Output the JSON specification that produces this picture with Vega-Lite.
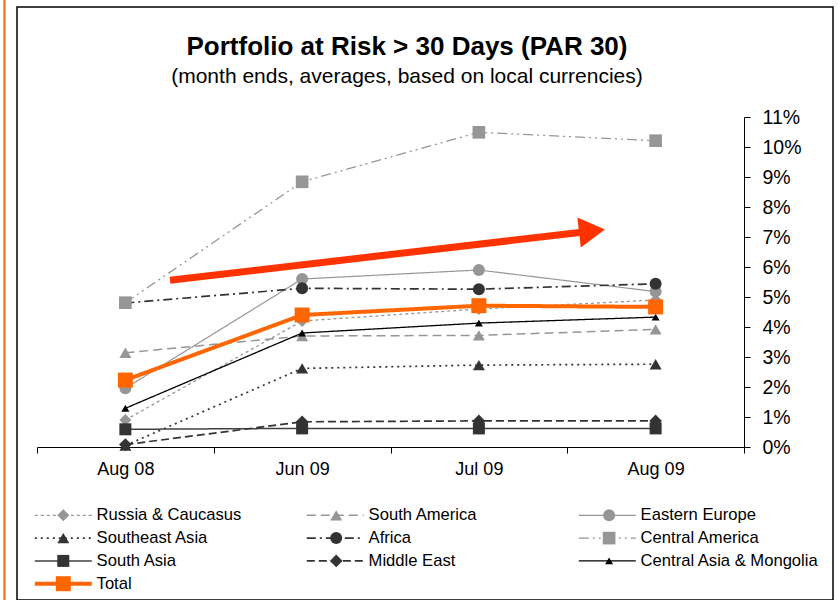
{
  "$schema": "https://vega.github.io/schema/vega-lite/v6.json",
  "width": 816,
  "height": 593,
  "autosize": {"type": "none"},
  "padding": {"left": 17, "top": 7, "right": 5, "bottom": 0},
  "config": {
    "view": {"stroke": "black", "strokeWidth": 1.5},
    "font": "Liberation Sans"
  },
  "title": {
    "text": "Portfolio at Risk > 30 Days (PAR 30)",
    "subtitle": "(month ends, averages, based on local currencies)",
    "anchor": "middle",
    "frame": "group",
    "offset": -121,
    "dx": -18,
    "fontSize": 26,
    "subtitleFontSize": 21,
    "font": "Liberation Sans",
    "subtitleFont": "Liberation Sans",
    "fontWeight": "bold",
    "color": "black",
    "subtitleColor": "black",
    "subtitlePadding": 6
  },
  "resolve": {"scale": {"x": "independent"}},
  "layer": [
    {
      "data": {
        "values": [
          {"series": "Russia & Caucasus", "month": "Aug 08", "value": 0.9},
          {"series": "Russia & Caucasus", "month": "Jun 09", "value": 4.2},
          {"series": "Russia & Caucasus", "month": "Jul 09", "value": 4.6},
          {"series": "Russia & Caucasus", "month": "Aug 09", "value": 4.9},
          {"series": "South America", "month": "Aug 08", "value": 3.14},
          {"series": "South America", "month": "Jun 09", "value": 3.7},
          {"series": "South America", "month": "Jul 09", "value": 3.72},
          {"series": "South America", "month": "Aug 09", "value": 3.92},
          {"series": "Eastern Europe", "month": "Aug 08", "value": 1.96},
          {"series": "Eastern Europe", "month": "Jun 09", "value": 5.6},
          {"series": "Eastern Europe", "month": "Jul 09", "value": 5.9},
          {"series": "Eastern Europe", "month": "Aug 09", "value": 5.18},
          {"series": "Southeast Asia", "month": "Aug 08", "value": 0.05},
          {"series": "Southeast Asia", "month": "Jun 09", "value": 2.62},
          {"series": "Southeast Asia", "month": "Jul 09", "value": 2.73},
          {"series": "Southeast Asia", "month": "Aug 09", "value": 2.76},
          {"series": "Africa", "month": "Aug 08", "value": 4.8},
          {"series": "Africa", "month": "Jun 09", "value": 5.29},
          {"series": "Africa", "month": "Jul 09", "value": 5.26},
          {"series": "Africa", "month": "Aug 09", "value": 5.44},
          {"series": "Central America", "month": "Aug 08", "value": 4.81},
          {"series": "Central America", "month": "Jun 09", "value": 8.84},
          {"series": "Central America", "month": "Jul 09", "value": 10.49},
          {"series": "Central America", "month": "Aug 09", "value": 10.21},
          {"series": "South Asia", "month": "Aug 08", "value": 0.59},
          {"series": "South Asia", "month": "Jun 09", "value": 0.62},
          {"series": "South Asia", "month": "Jul 09", "value": 0.62},
          {"series": "South Asia", "month": "Aug 09", "value": 0.62},
          {"series": "Middle East", "month": "Aug 08", "value": 0.08},
          {"series": "Middle East", "month": "Jun 09", "value": 0.84},
          {"series": "Middle East", "month": "Jul 09", "value": 0.87},
          {"series": "Middle East", "month": "Aug 09", "value": 0.87},
          {"series": "Central Asia & Mongolia", "month": "Aug 08", "value": 1.29},
          {"series": "Central Asia & Mongolia", "month": "Jun 09", "value": 3.8},
          {"series": "Central Asia & Mongolia", "month": "Jul 09", "value": 4.13},
          {"series": "Central Asia & Mongolia", "month": "Aug 09", "value": 4.33},
          {"series": "Total", "month": "Aug 08", "value": 2.23},
          {"series": "Total", "month": "Jun 09", "value": 4.4},
          {"series": "Total", "month": "Jul 09", "value": 4.71},
          {"series": "Total", "month": "Aug 09", "value": 4.67}
        ]
      },
      "encoding": {
        "x": {
          "field": "month",
          "type": "nominal",
          "sort": ["Aug 08", "Jun 09", "Jul 09", "Aug 09"],
          "scale": {"type": "band", "range": [20, 727], "paddingInner": 0, "paddingOuter": 0},
          "axis": {
            "title": null,
            "offset": -153,
            "labelFontSize": 18,
            "labelColor": "black",
            "labelFont": "Liberation Sans",
            "labelPadding": 7,
            "labelAngle": 0,
            "tickBand": "extent",
            "tickSize": 6,
            "tickColor": "black",
            "domainColor": "black",
            "grid": false
          }
        },
        "y": {
          "field": "value",
          "type": "quantitative",
          "scale": {"domain": [0, 11], "range": [440, 110], "nice": false, "zero": false},
          "axis": {
            "orient": "right",
            "offset": -89,
            "title": null,
            "values": [0, 1, 2, 3, 4, 5, 6, 7, 8, 9, 10, 11],
            "labelExpr": "datum.value + '%'",
            "grid": false,
            "tickSize": 6,
            "tickColor": "black",
            "domainColor": "black",
            "labelFontSize": 19.5,
            "labelFont": "Liberation Sans",
            "labelColor": "black",
            "labelPadding": 12
          }
        }
      },
      "layer": [
        {
          "mark": {"type": "line", "strokeCap": "butt"},
          "encoding": {
            "stroke": {
              "field": "series",
              "type": "nominal",
              "scale": {
                "domain": ["Russia & Caucasus", "South America", "Eastern Europe", "Southeast Asia", "Africa", "Central America", "South Asia", "Middle East", "Central Asia & Mongolia", "Total"],
                "range": ["#969696", "#969696", "#969696", "#333333", "#333333", "#969696", "#404040", "#333333", "#000000", "#FF6600"]
              },
              "legend": {
                "orient": "none", "legendX": 18, "legendY": 500, "columns": 3, "direction": "horizontal", "title": null,
                "symbolType": "M-5.7,0H5.7", "symbolSize": 100, "symbolOffset": 20, "labelOffset": 25,
                "labelFontSize": 16.6, "labelFont": "Liberation Sans", "labelColor": "black",
                "rowPadding": 5.8, "columnPadding": 28, "gridAlign": "all", "padding": 0, "labelLimit": 0
              }
            },
            "strokeDash": {
              "field": "series",
              "type": "nominal",
              "scale": {
                "domain": ["Russia & Caucasus", "South America", "Eastern Europe", "Southeast Asia", "Africa", "Central America", "South Asia", "Middle East", "Central Asia & Mongolia", "Total"],
                "range": [[3, 3], [9, 5], [1, 0], [2, 4], [9, 4, 2, 4], [10, 4, 2, 4, 2, 4], [1, 0], [8, 4], [1, 0], [1, 0]]
              },
              "legend": {
                "orient": "none", "legendX": 18, "legendY": 500, "columns": 3, "direction": "horizontal", "title": null,
                "symbolType": "M-5.7,0H5.7", "symbolSize": 100, "symbolOffset": 20, "labelOffset": 25,
                "labelFontSize": 16.6, "labelFont": "Liberation Sans", "labelColor": "black",
                "rowPadding": 5.8, "columnPadding": 28, "gridAlign": "all", "padding": 0, "labelLimit": 0
              }
            },
            "strokeWidth": {
              "field": "series",
              "type": "ordinal",
              "scale": {
                "type": "ordinal",
                "domain": ["Russia & Caucasus", "South America", "Eastern Europe", "Southeast Asia", "Africa", "Central America", "South Asia", "Middle East", "Central Asia & Mongolia", "Total"],
                "range": [1.3, 1.5, 1.2, 1.7, 1.7, 1.3, 1.5, 1.7, 1.3, 4]
              },
              "legend": {
                "orient": "none", "legendX": 18, "legendY": 500, "columns": 3, "direction": "horizontal", "title": null,
                "symbolType": "M-5.7,0H5.7", "symbolSize": 100, "symbolOffset": 20, "labelOffset": 25,
                "labelFontSize": 16.6, "labelFont": "Liberation Sans", "labelColor": "black",
                "rowPadding": 5.8, "columnPadding": 28, "gridAlign": "all", "padding": 0, "labelLimit": 0
              }
            }
          }
        },
        {
          "mark": {"type": "point", "filled": true, "opacity": 1, "strokeWidth": 0},
          "encoding": {
            "fill": {
              "field": "series",
              "type": "nominal",
              "sort": null,
              "scale": {"range": ["#969696", "#969696", "#969696", "#333333", "#333333", "#969696", "#333333", "#333333", "#000000", "#FF6600"]},
              "legend": {
                "orient": "none", "legendX": 18, "legendY": 500, "columns": 3, "direction": "horizontal", "title": null,
                "symbolOffset": 20, "labelOffset": 25, "symbolStrokeWidth": 0, "labelExpr": "''",
                "labelFontSize": 16.6, "labelFont": "Liberation Sans", "labelColor": "transparent",
                "rowPadding": 5.8, "columnPadding": 210.9, "gridAlign": "all", "padding": 0, "labelLimit": 0
              }
            },
            "shape": {
              "field": "series",
              "type": "nominal",
              "sort": null,
              "scale": {"range": ["diamond", "triangle-up", "circle", "triangle-up", "circle", "square", "square", "diamond", "triangle-up", "square"]},
              "legend": {
                "orient": "none", "legendX": 18, "legendY": 500, "columns": 3, "direction": "horizontal", "title": null,
                "symbolOffset": 20, "labelOffset": 25, "symbolStrokeWidth": 0, "labelExpr": "''",
                "labelFontSize": 16.6, "labelFont": "Liberation Sans", "labelColor": "transparent",
                "rowPadding": 5.8, "columnPadding": 210.9, "gridAlign": "all", "padding": 0, "labelLimit": 0
              }
            },
            "size": {
              "field": "series",
              "type": "ordinal",
              "sort": null,
              "scale": {"type": "ordinal", "range": [144, 144, 144, 144, 144, 160, 144, 160, 64, 225]},
              "legend": {
                "orient": "none", "legendX": 18, "legendY": 500, "columns": 3, "direction": "horizontal", "title": null,
                "symbolOffset": 20, "labelOffset": 25, "symbolStrokeWidth": 0, "labelExpr": "''",
                "labelFontSize": 16.6, "labelFont": "Liberation Sans", "labelColor": "transparent",
                "rowPadding": 5.8, "columnPadding": 210.9, "gridAlign": "all", "padding": 0, "labelLimit": 0
              }
            }
          }
        }
      ]
    },
    {
      "encoding": {
        "x": {"field": "x", "type": "quantitative", "scale": {"domain": [0, 4], "range": [20, 727], "nice": false, "zero": false}, "axis": null},
        "y": {
          "field": "y",
          "type": "quantitative",
          "scale": {"domain": [0, 11], "range": [440, 110], "nice": false, "zero": false},
          "axis": {
            "orient": "right",
            "offset": -89,
            "title": null,
            "values": [0, 1, 2, 3, 4, 5, 6, 7, 8, 9, 10, 11],
            "labelExpr": "datum.value + '%'",
            "grid": false,
            "tickSize": 6,
            "tickColor": "black",
            "domainColor": "black",
            "labelFontSize": 19.5,
            "labelFont": "Liberation Sans",
            "labelColor": "black",
            "labelPadding": 12
          }
        }
      },
      "layer": [
        {
          "data": {"values": [{"x": 0.7525, "y": 5.56, "x2": 3.07, "y2": 7.15}]},
          "mark": {"type": "rule", "color": "#FF3300", "strokeWidth": 7, "strokeCap": "butt"},
          "encoding": {"x2": {"field": "x2"}, "y2": {"field": "y2"}}
        },
        {
          "data": {"values": [{"x": 3.14, "y": 7.2}]},
          "mark": {"type": "point", "shape": "triangle-right", "filled": true, "color": "#FF3300", "size": 900, "angle": 353.4, "opacity": 1, "strokeWidth": 0}
        },
        {
          "data": {"values": [{"x": -0.184, "y": -6, "y2": 16}]},
          "mark": {"type": "rule", "color": "#F5821F", "strokeWidth": 2.5},
          "encoding": {"y2": {"field": "y2"}}
        }
      ]
    }
  ]
}
